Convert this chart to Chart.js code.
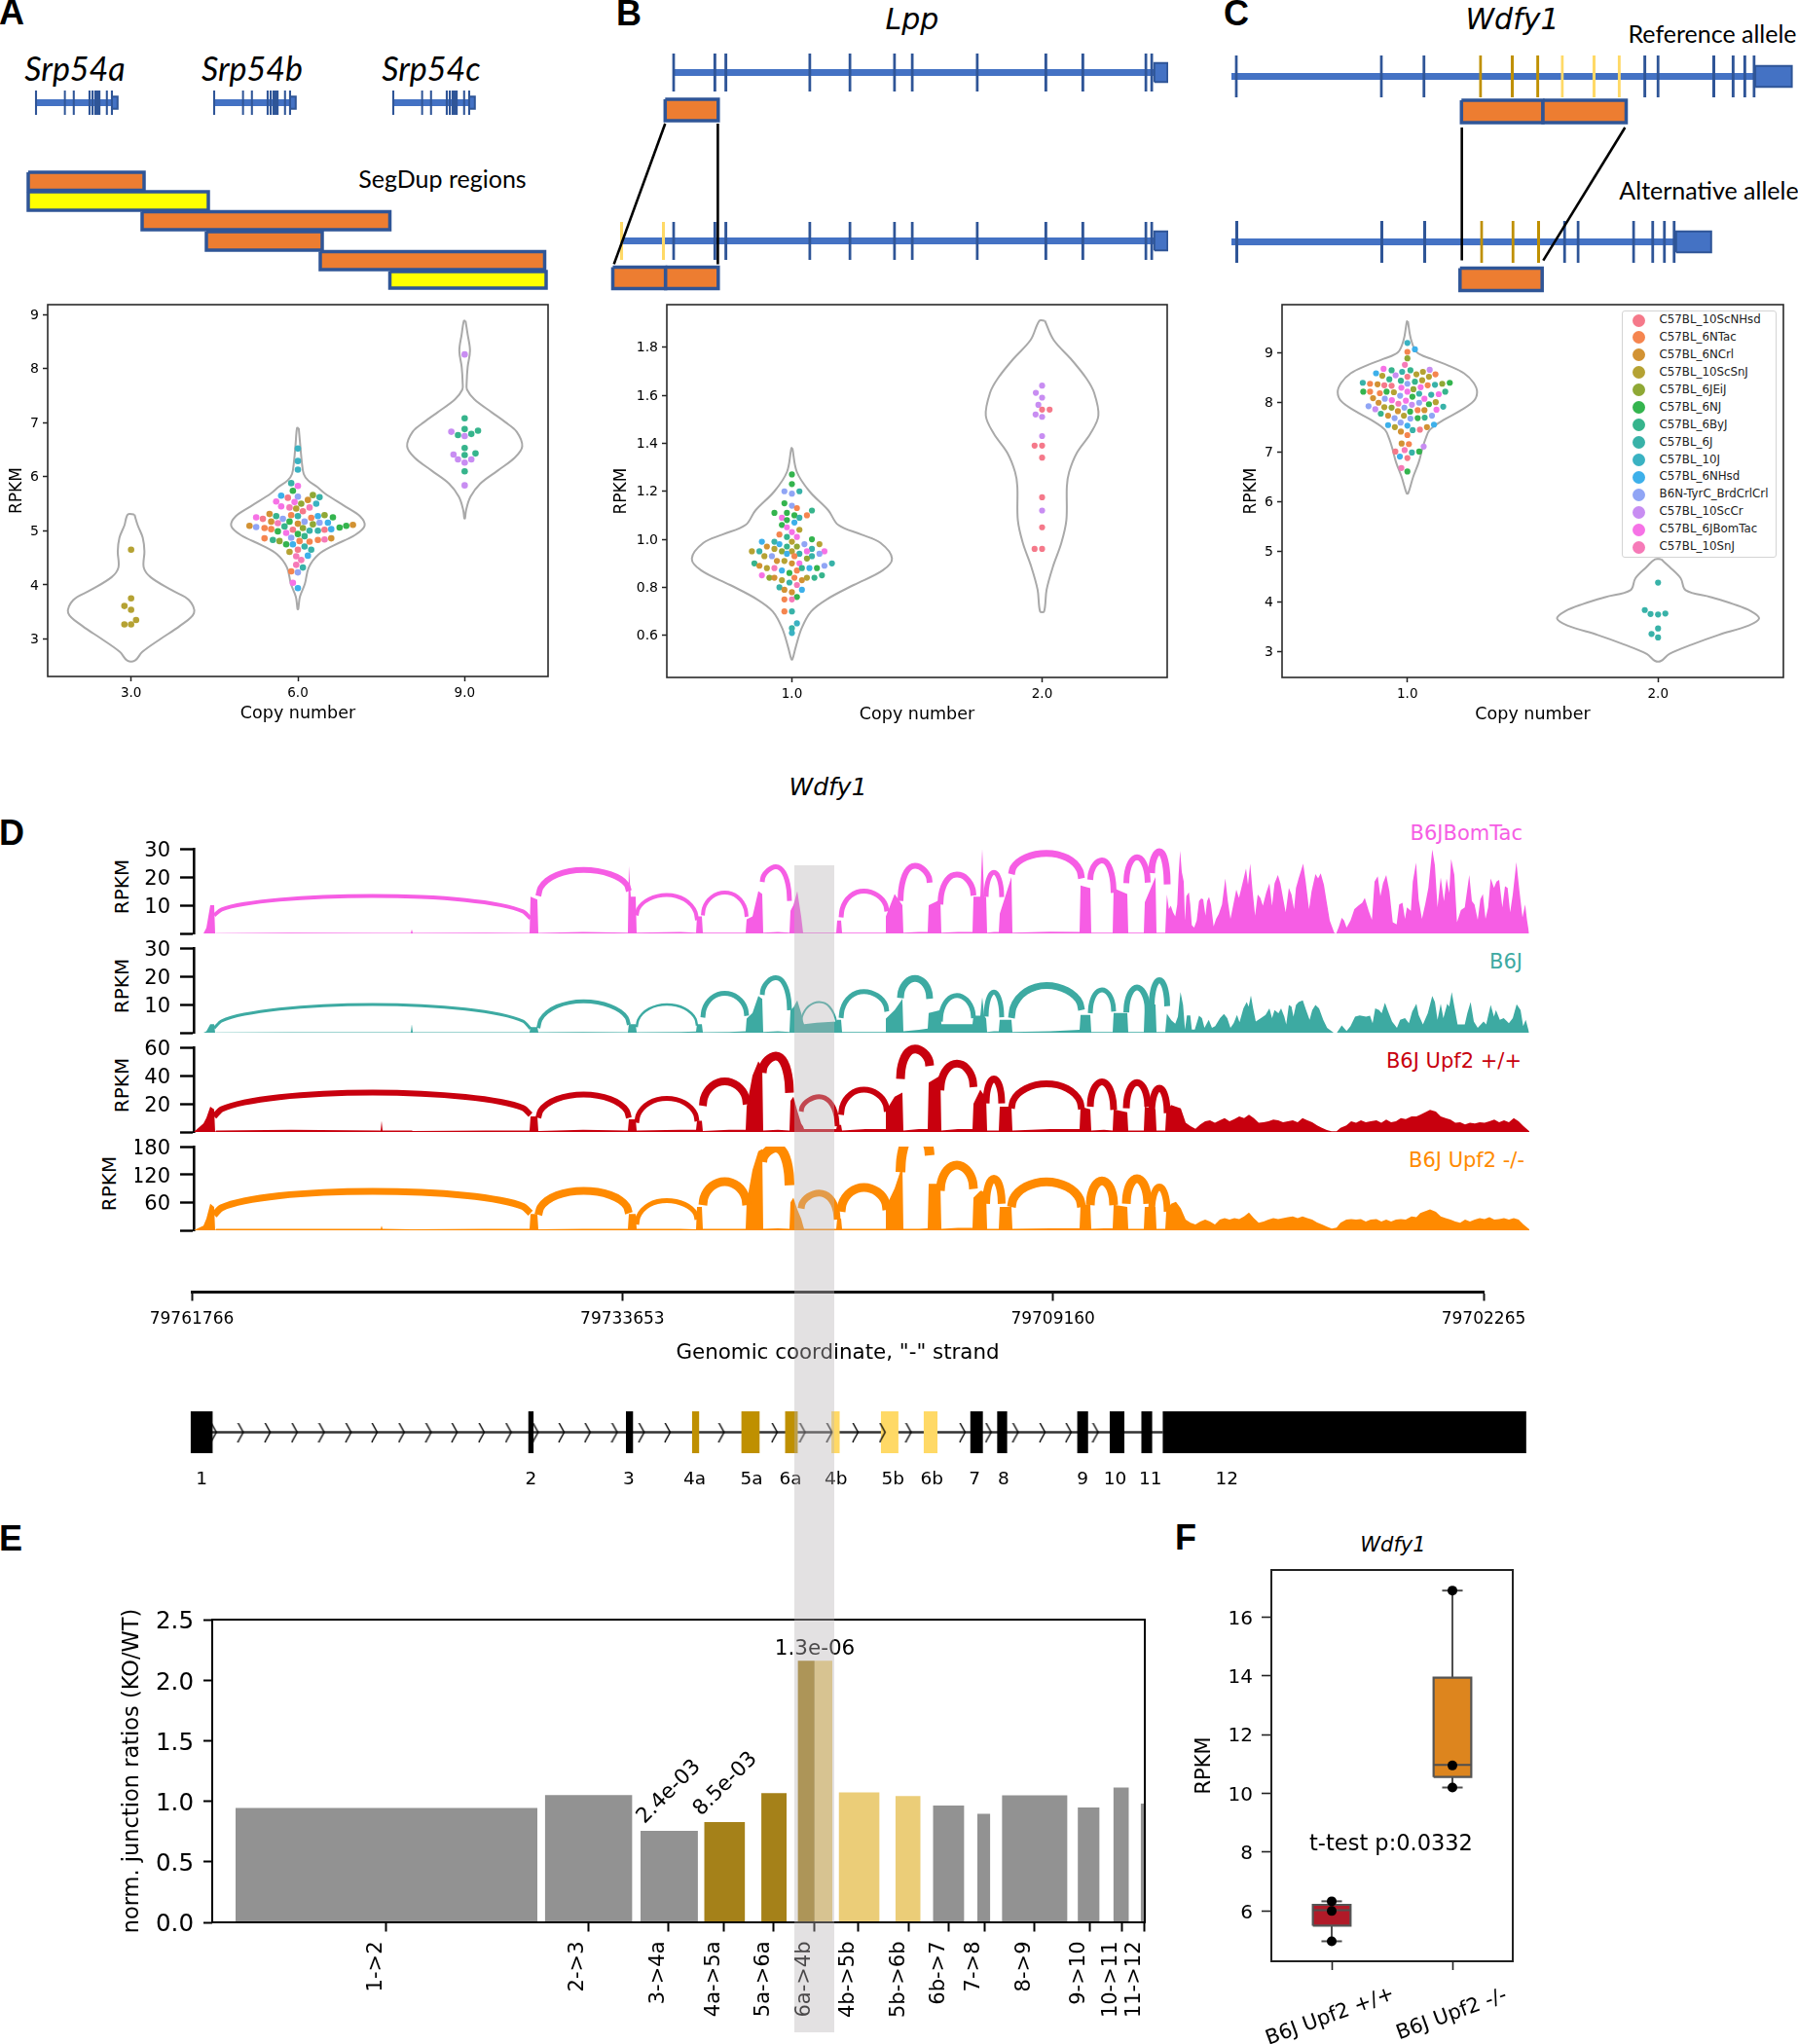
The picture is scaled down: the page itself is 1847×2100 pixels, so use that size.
<!DOCTYPE html>
<html>
<head>
<meta charset="utf-8">
<title>Wdfy1 figure</title>
<script src="https://cdn.jsdelivr.net/npm/chart.js"></script>
<style>
  html, body { margin: 0; padding: 0; background: #fff; }
  #page { position: relative; width: 1847px; height: 2100px; overflow: hidden; background: #fff; }
  #page canvas { position: absolute; }
  .txt { position: absolute; white-space: pre; line-height: 1; color: #000; font-family: "DejaVu Sans"; }
  #band { position: absolute; left: 816px; top: 889px; width: 41px; height: 1199px; background: rgba(185, 180, 183, 0.4); }
  #legend { position: absolute; left: 1666px; top: 319px; width: 159px; height: 254px; box-sizing: border-box;
            border: 1px solid #d4d4d4; border-radius: 3px; background: #fff; }
</style>
</head>
<body>
<div id="page"></div>
<script>
// strains (legend of panel C, colour index used by the swarm dots)
const strainNames = ["C57BL_10ScNHsd", "C57BL_6NTac", "C57BL_6NCrl", "C57BL_10ScSnJ", "C57BL_6JEiJ", "C57BL_6NJ", "C57BL_6ByJ",
  "C57BL_6J", "C57BL_10J", "C57BL_6NHsd", "B6N-TyrC_BrdCrlCrl", "C57BL_10ScCr", "C57BL_6JBomTac", "C57BL_10SnJ"];
const strainColors = ["#f5798a", "#f5854f", "#d29233", "#b5a233", "#8fa835", "#34b44e", "#36b48c",
  "#38b2a8", "#3ab2c2", "#3db0ea", "#90a5f5", "#c88df2", "#f672e6", "#f67ab8"];

// panel A, Srp54
const aCategories = ["3.0", "6.0", "9.0"];
const aTicks = [3, 4, 5, 6, 7, 8, 9];
const aViolin0Y = [5.3, 5.1, 4.87, 4.62, 4.32, 4.14, 3.9, 3.72, 3.48, 3.24, 3.0, 2.76, 2.6];
const aViolin0W = [.02, .04, .07, .08, .076, .118, .245, .347, .377, .292, .176, .067, .023];
const aViolin1Y = [6.9, 6.59, 6.29, 6.05, 5.93, 5.81, 5.69, 5.45, 5.27, 5.09, 4.92, 4.73, 4.56, 4.32, 4.02, 3.78, 3.55];
const aViolin1W = [.005, .014, .023, .035, .062, .116, .162, .284, .372, .4, .342, .215, .123, .065, .042, .012, .002];
const aViolin2Y = [8.88, 8.63, 8.33, 8.03, 7.73, 7.61, 7.43, 7.19, 7.01, 6.83, 6.56, 6.35, 6.11, 5.87, 5.63, 5.39, 5.23];
const aViolin2W = [.005, .018, .032, .018, .012, .014, .058, .162, .243, .312, .345, .3, .197, .093, .035, .009, .002];
const aDots0X = [0, 0, -.04, 0, .03, -.04, 0];
const aDots0Y = [4.65, 3.75, 3.61, 3.54, 3.35, 3.27, 3.27];
const aDots0C = [3, 3, 3, 3, 3, 3, 3];
const aDots1X = [0, 0, 0, -.04, 0, -.03, -.10, 0, -.06, .09,
  .13, .06, -.13, -.02, .02, .11, -.10, -.05, -.01, .07,
  .03, -.17, -.04, 0, .12, .16, .21, -.25, -.21, -.13,
  -.09, .08, -.16, -.05, .04, .13, .18, -.12, 0, .09,
  .33, .29, .25, -.29, -.25, -.20, -.16, -.08, .03, .20,
  .16, .12, .07, -.03, -.12, -.07, 0, .04, -.04, -.20,
  -.15, -.11, -.07, -.03, .01, .07, .12, .16, .20, .04,
  -.05, 0, .08, .06, -.01, .02, -.01, .03, -.04, 0,
  -.03, 0];
const aDots1Y = [6.52, 6.29, 6.13, 5.88, 5.83, 5.74, 5.65, 5.63, 5.61, 5.66,
  5.62, 5.57, 5.54, 5.53, 5.50, 5.50, 5.45, 5.43, 5.41, 5.43,
  5.36, 5.31, 5.29, 5.27, 5.27, 5.29, 5.25, 5.25, 5.22, 5.27,
  5.22, 5.24, 5.17, 5.17, 5.17, 5.15, 5.15, 5.14, 5.13, 5.12,
  5.11, 5.09, 5.06, 5.09, 5.07, 5.05, 5.03, 5.08, 5.05, 5.03,
  5.02, 5.00, 5.00, 5.02, 4.99, 4.96, 4.94, 4.90, 4.87, 4.86,
  4.83, 4.81, 4.75, 4.75, 4.81, 4.80, 4.83, 4.84, 4.86, 4.71,
  4.61, 4.65, 4.65, 4.54, 4.53, 4.46, 4.37, 4.32, 4.25, 4.23,
  4.04, 3.94];
const aDots1C = [8, 8, 8, 7, 12, 5, 9, 10, 0, 4,
  7, 2, 12, 12, 4, 8, 12, 13, 3, 13,
  0, 2, 1, 7, 9, 4, 5, 12, 0, 6,
  10, 1, 2, 5, 10, 10, 9, 13, 2, 4,
  2, 5, 5, 2, 10, 1, 1, 6, 4, 9,
  0, 7, 7, 0, 5, 12, 5, 6, 10, 1,
  6, 4, 5, 9, 1, 1, 1, 13, 2, 7,
  3, 0, 7, 9, 13, 13, 13, 7, 1, 10,
  12, 9];
const aDots2X = [0, 0, 0, .08, .04, -.04, -.08, 0, 0, .065, 0, -.067, -.04, .04, 0, 0, 0];
const aDots2Y = [8.26, 7.08, 6.88, 6.85, 6.79, 6.77, 6.83, 6.75, 6.53, 6.43, 6.40, 6.41, 6.32, 6.32, 6.26, 6.10, 5.84];
const aDots2C = [11, 6, 6, 6, 6, 6, 11, 11, 6, 6, 6, 11, 11, 11, 11, 6, 11];

// panel B, Lpp
const bCategories = ["1.0", "2.0"];
const bTicks = [.6, .8, 1.0, 1.2, 1.4, 1.6, 1.8];
const bViolin0Y = [1.38, 1.28, 1.20, 1.12, 1.06, 1.02, .985, .92, .87, .81, .75, .70, .63, .55, .50];
const bViolin0W = [.002, .02, .07, .146, .185, .277, .354, .40, .362, .247, .139, .077, .039, .015, .002];
const bViolin1Y = [1.91, 1.83, 1.75, 1.67, 1.61, 1.515, 1.44, 1.36, 1.28, 1.22, 1.08, .985, .885, .79, .70];
const bViolin1W = [.011, .046, .116, .177, .208, .225, .193, .139, .108, .099, .097, .077, .043, .018, .008];
const bDots0X = [0, 0, .03, -.03, 0, -.03, 0, .02, .08, -.07,
  -.02, .01, .06, -.04, -.02, .03, .01, -.04, -.02, 0,
  .03, -.05, -.02, .02, .08, -.07, 0, -.12, -.05, .11,
  .05, -.10, -.02, .02, .08, -.16, -.13, -.07, -.04, 0,
  .06, .13, -.11, -.02, .03, .11, -.08, .01, .08, -.06,
  -.03, .06, -.15, 0, .03, .16, .13, -.13, -.10, -.07,
  -.04, -.01, .02, .04, .07, .10, -.12, -.09, -.07, -.04,
  .01, .04, .06, .09, .12, -.01, -.05, .02, .04, -.03,
  0, .02, -.03, 0, -.03, 0, .02, 0, 0];
const bDots0Y = [1.27, 1.23, 1.20, 1.20, 1.19, 1.15, 1.14, 1.13, 1.12, 1.11,
  1.11, 1.10, 1.10, 1.09, 1.08, 1.09, 1.07, 1.06, 1.05, 1.03,
  1.04, 1.02, 1.01, 1.01, 1.00, .99, .99, .99, .98, .98,
  .98, .97, .97, .97, .96, .95, .95, .96, .95, .95,
  .95, .95, .93, .94, .94, .94, .93, .93, .93, .91,
  .91, .92, .90, .90, .90, .90, .89, .89, .88, .88,
  .87, .86, .87, .88, .88, .88, .85, .84, .84, .83,
  .84, .83, .84, .84, .85, .82, .80, .81, .79, .79,
  .78, .76, .75, .75, .70, .70, .65, .63, .61];
const bDots0C = [5, 5, 7, 10, 10, 5, 10, 1, 6, 5,
  5, 5, 1, 12, 5, 7, 9, 5, 12, 12,
  3, 1, 6, 12, 5, 7, 3, 9, 9, 3,
  10, 2, 6, 4, 7, 3, 7, 3, 4, 3,
  12, 12, 3, 9, 7, 10, 10, 1, 7, 2,
  3, 4, 6, 2, 12, 7, 10, 2, 3, 13,
  9, 5, 1, 6, 9, 5, 12, 4, 2, 3,
  1, 2, 3, 6, 6, 7, 7, 13, 9, 2,
  2, 5, 1, 13, 1, 7, 8, 7, 8];
const bDots1X = [0, -.025, 0, -.015, 0, .03, -.026, 0, 0, -.03, 0, 0, 0, 0, 0, -.03, 0];
const bDots1Y = [1.64, 1.61, 1.59, 1.56, 1.54, 1.54, 1.52, 1.51, 1.43, 1.39, 1.39, 1.34, 1.175, 1.12, 1.05, .96, .96];
const bDots1C = [11, 11, 11, 11, 0, 0, 11, 11, 11, 0, 0, 0, 0, 11, 0, 0, 0];

// panel C, Wdfy1
const cCategories = ["1.0", "2.0"];
const cTicks = [3, 4, 5, 6, 7, 8, 9];
const cViolin0Y = [9.62, 9.25, 9.0, 8.87, 8.73, 8.58, 8.39, 8.2, 8.02, 7.83, 7.64, 7.45, 7.26, 7.07, 6.79, 6.5, 6.17];
const cViolin0W = [.002, .015, .038, .095, .166, .226, .264, .278, .264, .211, .143, .09, .072, .06, .045, .023, .003];
const cViolin1Y = [4.85, 4.70, 4.47, 4.23, 4.09, 3.95, 3.81, 3.66, 3.52, 3.33, 3.14, 2.95, 2.81];
const cViolin1W = [.012, .045, .09, .11, .21, .30, .37, .403, .362, .241, .136, .045, .012];
const cDots0X = [0, .03, 0, 0, -.01, -.095, -.063, .012, -.021, .089,
  .062, -.125, -.10, -.047, .036, .112, .086, -.072, 0, -.026,
  .03, .059, -.178, -.149, -.119, -.092, -.063, 0, -.024, .081,
  .11, .139, .169, .024, .053, -.176, -.149, -.11, -.083, -.054,
  0, .047, .095, .125, .151, -.137, -.09, -.029, .02, -.062,
  -.006, .068, -.115, -.036, .018, .047, .086, .113, -.155, -.128,
  -.092, -.063, -.012, .143, -.038, .011, .041, .068, .116, -.106,
  -.077, -.014, -.051, .012, .041, .069, .098, -.027, -.077, -.05,
  0, .106, .078, .021, -.026, .05, 0, -.023, .006, .065,
  -.048, -.011, .018, .047, -.03, 0, -.024, 0];
const cDots0Y = [9.19, 9.06, 9.01, 8.88, 8.75, 8.67, 8.64, 8.64, 8.61, 8.65,
  8.61, 8.58, 8.53, 8.54, 8.56, 8.56, 8.51, 8.46, 8.51, 8.43,
  8.41, 8.44, 8.39, 8.37, 8.36, 8.34, 8.33, 8.37, 8.29, 8.34,
  8.35, 8.37, 8.39, 8.26, 8.30, 8.21, 8.21, 8.18, 8.21, 8.20,
  8.21, 8.17, 8.15, 8.16, 8.21, 8.08, 8.07, 8.13, 8.11, 8.04,
  8.03, 8.07, 7.99, 7.97, 7.95, 7.99, 7.96, 8.00, 7.92, 7.86,
  7.90, 7.89, 7.89, 7.91, 7.82, 7.81, 7.84, 7.84, 7.85, 7.77,
  7.73, 7.73, 7.68, 7.67, 7.68, 7.69, 7.73, 7.59, 7.54, 7.50,
  7.53, 7.55, 7.50, 7.44, 7.41, 7.45, 7.34, 7.17, 7.16, 7.11,
  7.01, 7.04, 6.99, 7.01, 6.91, 6.88, 6.68, 6.61];
const cDots0C = [8, 9, 1, 4, 13, 12, 6, 6, 7, 11,
  3, 9, 3, 11, 3, 1, 3, 6, 0, 6,
  6, 3, 7, 1, 2, 0, 0, 10, 12, 1,
  7, 4, 5, 4, 12, 5, 1, 1, 5, 3,
  12, 7, 7, 12, 6, 2, 10, 10, 5, 12,
  12, 12, 2, 13, 11, 10, 5, 3, 10, 11,
  3, 4, 10, 7, 2, 5, 1, 2, 12, 6,
  2, 3, 10, 10, 5, 6, 10, 10, 9, 3,
  9, 9, 2, 7, 2, 0, 1, 2, 1, 11,
  0, 13, 7, 5, 9, 0, 13, 5];
const cDots1X = [0, -.053, -.03, 0, .029, 0, -.026, 0];
const cDots1Y = [4.38, 3.83, 3.75, 3.74, 3.76, 3.46, 3.35, 3.28];
const cDots1C = [7, 7, 7, 7, 7, 7, 7, 7];

// gene models, exon positions along each track
const srp54Exons = [0, 29.6, 38.7, 54.9, 58.1, 60.9, 62.8, 65.2, 72.7, 77.9];
const lppExons = [0, 42.3, 53.7, 139.9, 181.1, 226.9, 245.1, 311.9, 382.3, 420.3, 485.1, 491.1];
const lppAltExons = [-53.4, -10.4];
const wdfyRefExons = [0, 149, 192.8, 250.9, 283.4, 309.7, 334.9, 367.4, 393.3, 419.7, 433.2, 490.5, 510.3, 522.3, 531.9];
const wdfyRefKinds = [0, 0, 0, 1, 1, 1, 2, 2, 2, 0, 0, 0, 0, 0, 0];
const wdfyAltExons = [.4, 149.4, 193.6, 252, 284.2, 310.5, 337.2, 351.1, 408.1, 427.8, 439.8, 449.8];
const wdfyAltKinds = [0, 0, 0, 1, 1, 1, 0, 0, 0, 0, 0, 0];

// SegDup regions
const segStart = [29, 29, 146, 212, 329, 400.5];
const segEnd = [148, 214, 400.5, 331, 559.5, 561];
const segTop = [177, 197, 217.5, 238, 258.5, 279];
const segBottom = [195.5, 216, 236, 257, 277, 296];
const segFill = ["#ed7d31", "#ffff00", "#ed7d31", "#ed7d31", "#ed7d31", "#ffff00"];

// panel D, sashimi tracks
const bodyPos = [0, 10, 13, 17, 21, 22, 23, 100, 192, 193, 194, 223, 224, 225, 300, 345, 346, 353, 354, 400, 446, 447, 449, 454, 455,
  500, 516, 517, 522, 523, 550, 567, 568, 574, 580, 584, 585, 600, 612, 613, 616, 620, 624, 626, 627, 640, 660, 661, 665, 666,
  690, 710, 711, 720, 728, 729, 745, 754, 755, 767, 768, 785, 800, 801, 808, 810, 812, 814, 815, 822, 827, 828, 840, 841,
  880, 910, 911, 921, 922, 935, 944, 945, 959, 960, 970, 976, 977, 988, 989, 995, 998];
const utrPos = [999, 1004, 1009, 1014, 1019, 1024, 1029, 1034, 1039, 1044, 1049, 1054, 1059, 1064, 1069, 1074, 1079, 1084, 1089, 1094,
  1099, 1104, 1109, 1114, 1119, 1124, 1129, 1134, 1139, 1144, 1149, 1154, 1159, 1164, 1169, 1174, 1178, 1184, 1189, 1194, 1199, 1204, 1209,
  1215, 1220, 1225, 1230, 1235, 1240, 1245, 1251, 1256, 1260, 1270, 1276, 1281, 1286, 1291, 1296, 1301, 1306, 1311, 1316, 1321, 1326,
  1331, 1336, 1341, 1346, 1351, 1356, 1361, 1366, 1372];
const arcFrom = [21, 354, 455, 523, 584, 624, 665, 726, 767, 814, 840, 921, 958, 984];
const arcTo = [346, 447, 517, 568, 612, 661, 712, 756, 801, 830, 912, 945, 980, 1000];

const bomTacBody = [0, 0, 2, 10, 10, 0, .1, .3, .2, .2, .2, .2, 1.5, .2, .3, .2, 13, 12, .2, .5, .3, 24, 13, 13, .3, .5, .3, 6, 6, .3, .3, .3,
  5, 6, 15, 14, .3, .5, .3, 8, 10, 15, 6, .3, .3, .3, .3, 4.6, 4.6, .3, .3, .3, 6, 14, 10, .3, .5, .5, 10, 12, .3, .5, .5,
  13, 13, 30, 13, 13, .3, .5, .5, 7, 20, .3, .6, .5, 17, 16, .3, .3, .3, 16, 14, .3, .3, .3, 11, 20, .3, .3, .3];
const bomTacUtrPos = [999.7, 1001.7, 1003.7, 1006, 1008.3, 1010.3, 1011.7, 1013.3, 1015, 1017, 1018.3, 1019.7, 1022.3, 1023.7, 1025.3, 1027.7,
  1030.3, 1032.7, 1035, 1037, 1039.3, 1041, 1043, 1045, 1047.7, 1050.3, 1053, 1056.3, 1059.7, 1062.3, 1065, 1068.3,
  1071, 1073.7, 1077, 1081, 1083, 1085.3, 1087.7, 1090.3, 1093, 1095.7, 1098.3, 1101.7, 1105, 1107.7, 1110.3, 1113.7,
  1116.3, 1119, 1121.7, 1125, 1127.7, 1130.3, 1132.3, 1135, 1139.7, 1142.3, 1145.7, 1148.3, 1152.3, 1155, 1157.7, 1161,
  1163.7, 1167, 1171.7, 1173.7, 1176.3, 1179.3, 1181.7, 1184.3, 1188.3, 1192.3, 1196.3, 1200.3, 1203, 1207, 1210.3, 1213,
  1216.3, 1219, 1221.7, 1225, 1228.3, 1231.7, 1235.7, 1238.3, 1241.7, 1244.3, 1246.3, 1250.3, 1252.3, 1255.7, 1258.3, 1261.7,
  1265, 1268.3, 1272.3, 1275, 1277.7, 1281, 1284.3, 1287, 1289.7, 1291.7, 1295, 1297.7, 1301.7, 1305.7, 1310.3, 1313,
  1315.7, 1319, 1321.7, 1324.3, 1327, 1329.7, 1332.3, 1335.7, 1338.3, 1341, 1344.3, 1347, 1349.7, 1352.3, 1355, 1358.7,
  1361.7, 1365, 1367.7, 1369.7, 1371.7];
const bomTacUtr = [13.8, 8.6, 9.8, 7.5, 6, 10.3, 20.7, 29.3, 21.8, 18.4, 4.6, 13.2, 14.6, 10.3, 2.9, 2.1,
  4.6, 11.5, 12.4, 12.1, 6.3, 11.5, 12.9, 10.3, 2.5, 5.2, 6.9, 10.3, 19.5, 11.5, 5.2, 10.9,
  15.5, 12.6, 17.2, 23, 17.2, 24.7, 15.2, 6.3, 13.8, 12.6, 9.8, 14.4, 17.8, 9.8, 17.8, 20.7,
  17.8, 12.6, 7.5, 16.1, 13.8, 8.6, 16.1, 19.5, 24.7, 18.4, 8.6, 14.9, 21, 19.5, 21.3, 17.2,
  11.5, 4.6, .2, 0, 2.3, 5.5, 4.6, 2.1, 4.6, 8.6, 9.8, 10.9, 12.6, 8, 4.8, 18.4,
  20.3, 13.2, 17.8, 20.7, 14.9, 4, 3.2, 10.3, 10.9, 5.2, 9.2, 8, 18.4, 25.1, 12.1, 5.2,
  10.3, 16.1, 29.7, 24.1, 9.2, 19.8, 11.5, 19.5, 14.4, 26.4, 20.7, 4, 8.3, 9.2, 20.7, 11.5,
  10.3, 4.8, 12.1, 14, 5.2, 9.2, 19.5, 16.1, 18.4, 19, 9.2, 16.7, 16.1, 7.5, 13.8, 25.3,
  15.5, 5.7, 10.3, 4.6, .2];
const bomTacLeft = [6.4, 13.3, 6.4, 6.4, 18.2, null, 5.7, 11.5, 10.3, 13, 21, 19, 17.8, 21.4];
const bomTacRight = [5.3, 15, 4.7, 5.9, 11.5, null, 7.8, 18, 13.4, 12.9, 19.5, 14.4, 18, 17.4];
const bomTacPeak = [13.3, 22.5, 13.6, 14.5, 23.6, null, 15, 24, 20.9, 21.6, 28.4, 25.9, 27, 29];
const bomTacWeight = [4, 6, 4, 4, 5, 0, 5, 6, 6, 5, 7, 6, 6, 7];

const b6jBody = [0, 0, .5, 3, 3, 0, .1, .2, .2, .2, .2, .2, 3, .2, .2, .2, 2, 2, .2, .3, .2, 3, 3, 3, .2, .3, .4, 3, 3, .2, .3, .5,
  5, 7, 13, 12, .3, .5, .3, 8, 9, 11.5, 7, 4, 3, 3.5, 4, 4.6, 4.6, .3, .3, .3, 5, 8, 12, .5, 1, 1.5, 7, 8, 3, 3, 3,
  6, 6, 12.6, 6, 5, .3, .5, .5, 4.6, 4.6, .3, .5, 1, 6.3, 6.3, .3, .3, .3, 7, 7, .3, .3, .3, 10, 10, .3, .3, .3];
const b6jUtrPos = [999.7, 1004.3, 1008.3, 1011, 1013.7, 1016.3, 1018.3, 1020.3, 1023.7, 1025.3, 1028.3, 1032.7, 1035.7, 1038.3, 1042.7, 1046,
  1049.3, 1054.3, 1058.3, 1061.7, 1065, 1068.3, 1071.7, 1074.3, 1078.3, 1081.7, 1083.7, 1086, 1088.3, 1091, 1096.3, 1101,
  1105, 1107.7, 1110.3, 1114.3, 1117, 1120.3, 1122.3, 1125, 1127.7, 1129.7, 1132.3, 1135, 1139.3, 1142.7, 1146.3, 1149,
  1152.3, 1156, 1160.3, 1164.3, 1171, 1174.3, 1179.3, 1184.3, 1188.3, 1193, 1197.7, 1204.3, 1208.3, 1211, 1213.7, 1217.7,
  1220.3, 1223.7, 1227, 1231, 1236, 1239.3, 1244.3, 1248.3, 1251.7, 1256, 1258.3, 1262.7, 1267.7, 1272.3, 1275, 1277.7,
  1281, 1283.7, 1287.7, 1289.7, 1292.3, 1295, 1298.3, 1305.7, 1308.3, 1311.7, 1315, 1319, 1325, 1327.7, 1332.3, 1335.7,
  1337.7, 1341.7, 1345.7, 1351, 1355, 1359, 1363, 1365.7, 1368.3, 1371.7];
const b6jUtr = [6.7, 4.4, 3.2, 5.7, 14.4, 9.8, 1.1, 6.1, 6.1, 1.1, 1.1, 6, 5.2, 1.7, 4.6, 1.7,
  2.3, 5.2, 6.6, 5.2, 1.7, 3.4, 6.3, 3.7, 8.6, 10.9, 9.2, 13.2, 8.6, 4, 5.2, 6.3,
  8.6, 5.2, 8, 6.9, 8.6, 5.7, 2.9, 9.8, 9.2, 5.7, 9.8, 10.9, 11.5, 8, 4.6, 8,
  9.8, 8.6, 4.6, 1.7, 0, 0, 2.6, .6, 2.3, 5.7, 6.1, 5.7, 6, 3.4, 8.6, 8,
  6.9, 10.6, 7.5, 4, 1.7, 4.6, 5.2, 3.4, 7.5, 10.3, 6.3, 2.9, 6.9, 13, 10.9, 4.6,
  10.3, 5.2, 10.3, 9.2, 14.4, 9.2, 2.9, 2.9, 6.9, 10.9, 4, 1.7, 4, 2.9, 9.8, 5.7,
  8, 4.6, 5.2, 3.4, 5.2, 10.1, 8, 2.3, 4.6, .2];
const b6jLeft = [1.6, 1.6, 2, 5.4, 13.4, 3.4, 5.2, 12.3, 4, 5.7, 5.2, 6.9, 7.2, 9.4];
const b6jRight = [1.4, 2.8, 2.5, 6, 8, .6, 7.5, 12, 5.2, 5.5, 8, 7.5, 7.5, 9.4];
const b6jPeak = [10, 11.1, 10, 14, 19.5, 10.9, 14.6, 19.2, 13.2, 14.4, 16.7, 15.2, 16, 18.6];
const b6jWeight = [3, 4, 2.5, 5, 5, 2, 5, 7, 5, 5, 7, 5, 6, 6];

const wtBody = [0, 6, 10, 18, 16, 0, 1, 1.5, 1, 8, 1, 1, 1, .7, 1, 1, 11, 11, .7, 1.5, 1, 9, 9, 9, 1, 1.5, 1.5, 8, 8, .7, 1.5, 1.5,
  18, 40, 50, 46, 1, 1.5, 1, 22, 25, 15, 6, 4, 2, 2, 2, 5, 5, 1, 2, 2, 15, 25, 28, 1, 2, 2, 35, 40, 1, 2, 2,
  20, 30, 28, 26, 24, 1, 1, 1, 18, 18, 1, 2, 2, 18, 16, 1, 1.5, 1, 16, 14, 1, 1, 1, 18, 16, 1, 1, 1];
const wtUtr = [13.4, 19.2, 18, 16.8, 6.5, 4.2, 2.3, 5.3, 7.6, 8.3, 6.5, 8.3, 9.9, 7.6, 9.2, 11, 9.9, 12.2, 9.9, 6.5,
  6.9, 7.6, 8.8, 8.3, 6.9, 7.6, 8.3, 6.9, 9.9, 8.3, 6.9, 4.6, 3, 1.4, .5, .5, 3, 4.6, 7.6, 6.5, 8.3, 6.9, 7.6,
  8.3, 6.5, 8.8, 6.9, 7.6, 9.9, 9.2, 11, 11, 12.2, 15.7, 14.5, 11, 9.9, 8.8, 6.5, 6.9, 5.3, 6.5, 6, 6.9, 6.5,
  7.6, 8.8, 6.9, 8.3, 6.9, 9.9, 7.6, 4.2, .5];
const wtLeft = [11, 10, 6.5, 18.5, 42, 14.5, 12.2, 37.6, 29.5, 20.3, 16.8, 18, 16.8, 13.4];
const wtRight = [12.2, 10, 7.6, 19.6, 27.7, 4.2, 14.5, 46.8, 31.8, 20.3, 16.2, 15.7, 18, 13.4];
const wtPeak = [27.9, 26.5, 23.8, 35.8, 53.8, 25, 30, 58.8, 48.5, 37.6, 34.2, 35.5, 35, 31];
const wtWeight = [6, 6, 5, 8, 9, 5, 6, 9, 8, 7, 7, 7, 7, 7];

const koBody = [0, 10, 25, 57, 50, 0, 3, 3, 3, 10, 3, 2, 2, 2, 3, 3, 35, 35, 2, 3, 3, 35, 35, 35, 3, 3, 2, 50, 50, 3, 3, 3,
  60, 130, 170, 175, 3, 4, 3, 60, 70, 45, 25, 10, 3, 3, 3, 25, 25, 3, 3, 3, 50, 90, 140, 3, 3, 4, 100, 100, 3, 5, 5,
  70, 85, 85, 80, 75, 3, 3, 3, 50, 50, 3, 4, 4, 55, 55, 3, 4, 4, 55, 50, 3, 3, 3, 50, 50, 3, 3, 3];
const koUtr = [40, 57, 61, 47, 23, 16, 12.5, 19, 23, 19, 12.5, 23, 26, 23, 26, 24, 30, 38, 26, 16,
  19, 23, 26, 24, 26, 28, 30, 26, 30, 26, 23, 17, 12.5, 8, 3.5, 5.5, 16, 23, 24, 23, 24, 19, 23,
  24, 19, 23, 19, 23, 24, 23, 30, 28, 37, 45, 40, 30, 26, 23, 19, 16, 23, 19, 23, 26, 24,
  28, 23, 24, 26, 23, 26, 23, 12.5, 2];
const koLeft = [33, 33, 12.5, 54, 147, 47, 40, 125, 85, 57, 50, 54, 57, 40];
const koRight = [36.7, 36.7, 23, 54, 97, 23, 44, 161, 89, 57, 50, 54, 57, 40];
const koPeak = [83.8, 85, 64, 104.6, 178, 80, 92, 210, 140, 111, 104, 106, 111, 93];
const koWeight = [7, 8, 5, 9, 10, 7, 9, 10, 9, 8, 9, 9, 9, 7];

const genomeTicks = ["79761766", "79733653", "79709160", "79702265"];

// transcript model below the tracks
const exonNames = ["1", "2", "3", "4a", "5a", "6a", "4b", "5b", "6b", "7", "8", "9", "10", "11", "12"];
const exonStart = [-4.3, 343, 443.6, 511.5, 562.2, 607.2, 655, 705.8, 749.8, 797.7, 825.4, 907.7, 941.2, 973.7, 995.7];
const exonEnd = [18.7, 348.8, 451.2, 519.2, 581.4, 620.6, 663.7, 724, 764.2, 811, 836, 919.2, 956.5, 985.2, 1369.9];
const exonKind = [3, 3, 3, 1, 1, 1, 2, 2, 2, 3, 3, 3, 3, 3, 3];
const exonLabelPos = [7.2, 346, 446.5, 514.4, 572.8, 613, 659.8, 718.2, 758.4, 802.4, 832.1, 913.4, 947, 983.2, 1061.8];
const chevronPos = [19.7, 47.4, 75.2, 102.9, 130.7, 158.4, 185.2, 213, 240.7, 267.5, 295.3, 323, 350.8, 377.6, 404.3, 432.1,
  459.9, 486.6, 542.1, 596.7, 625.4, 653.2, 679.9, 707.7, 734.5, 790, 816.8, 844.6, 872.3, 899.1, 926.8];

// panel E
const junctionNames = ["1->2", "2->3", "3->4a", "4a->5a", "5a->6a", "6a->4b", "4b->5b", "5b->6b", "6b->7", "7->8", "8->9", "9->10", "10->11", "11->12"];
const junctionTicks = [178.9, 386, 468.8, 525.6, 576.8, 618.9, 663.9, 715.1, 756.5, 793, 844.9, 901, 934, 957.9];
const ratioStart = [23.9, 341.7, 440, 505.3, 564.1, 601.4, 618.9, 643.5, 701.7, 740.3, 786, 811.2, 889.1, 925.6, 953.7];
const ratioEnd = [334, 431.6, 498.9, 547.4, 590.1, 618.9, 637.1, 685.6, 727.7, 772.6, 799.3, 878.6, 911.6, 941.7, 962];
const ratioValues = [.945, 1.052, .755, .827, 1.068, 2.16, 2.16, 1.073, 1.044, .964, .897, 1.049, .948, 1.113, .98];
const ratioKinds = [0, 0, 0, 1, 1, 1, 2, 2, 2, 0, 0, 0, 0, 0, 0];
const ratioTicks = [0, .5, 1, 1.5, 2, 2.5];

// panel F
const fGroups = ["B6J Upf2 +/+", "B6J Upf2 -/-"];
const fColors = ["#b01a28", "#dd851e"];
const fQ1 = [5.5, 10.56];
const fQ3 = [6.21, 13.94];
const fMedian = [6.03, 10.97];
const fLow = [4.97, 10.2];
const fHigh = [6.33, 16.9];
const fPointGroup = [0, 0, 0, 1, 1, 1];
const fPointValue = [4.97, 6.0, 6.33, 10.2, 10.95, 16.9];
const fTicks = [6, 8, 10, 12, 14, 16];

// ---------------------------------------------------------------- helpers
const page = document.getElementById("page");
Chart.defaults.font.family = "DejaVu Sans";
Chart.defaults.color = "#000";
Chart.defaults.animation = false;

function text(str, x, y, opts) {
  opts = opts || {};
  const el = document.createElement("div");
  el.className = "txt";
  el.textContent = str;
  el.style.left = x + "px";
  el.style.top = y + "px";
  el.style.fontSize = (opts.size || 18) + "px";
  if (opts.family) el.style.fontFamily = opts.family;
  if (opts.weight) el.style.fontWeight = opts.weight;
  if (opts.italic) el.style.fontStyle = "italic";
  if (opts.color) el.style.color = opts.color;
  const shift = opts.anchor === "right" ? "-100%" : opts.anchor === "left" ? "0" : "-50%";
  el.style.transform = "translate(" + shift + ",-50%)" + (opts.rotate ? " rotate(" + opts.rotate + "deg)" : "");
  page.appendChild(el);
}

function frame(color, width) {
  return {
    id: "frame",
    afterDraw(chart) {
      const a = chart.chartArea, ctx = chart.ctx;
      ctx.save();
      ctx.strokeStyle = color;
      ctx.lineWidth = width;
      ctx.strokeRect(a.left, a.top, a.right - a.left, a.bottom - a.top);
      ctx.restore();
    }
  };
}

function noMargins(s) {
  s.paddingLeft = s.paddingRight = s.paddingTop = s.paddingBottom = 0;
}

function addChart(plot, gutter, datasets, scales, plugins) {
  const canvas = document.createElement("canvas");
  const left = Math.round(plot.left), top = Math.round(plot.top);
  const w = Math.round(plot.right) - left, h = Math.round(plot.bottom) - top;
  canvas.width = w + gutter.left + gutter.right;
  canvas.height = h + gutter.top + gutter.bottom;
  canvas.style.left = (left - gutter.left) + "px";
  canvas.style.top = (top - gutter.top) + "px";
  page.appendChild(canvas);
  const xShown = scales.x.display !== false, yShown = scales.y.display !== false;
  if (xShown) scales.x.afterFit = s => { s.height = gutter.bottom; noMargins(s); };
  if (yShown) scales.y.afterFit = s => { s.width = gutter.left; noMargins(s); };
  // later datasets go on top
  datasets.forEach((d, i) => { d.order = -i; });
  return new Chart(canvas, {
    type: "scatter",
    data: { datasets: datasets },
    options: {
      responsive: false,
      events: [],
      layout: { padding: { left: yShown ? 0 : gutter.left, right: gutter.right, top: gutter.top, bottom: xShown ? 0 : gutter.bottom } },
      plugins: { legend: { display: false }, tooltip: { enabled: false } },
      scales: scales
    },
    plugins: plugins || []
  });
}

function hiddenAxis(min, max, reverse) {
  return { type: "linear", display: false, min: min, max: max, reverse: !!reverse };
}

function axis(min, max, values, labels, style) {
  const s = {
    type: "linear", min: min, max: max,
    afterBuildTicks: scale => {
      scale.ticks = values.map(v => ({ value: v }));
      // digits sit a little low against their tick in the reference
      if (style.drop && !scale.dropped) {
        const compute = scale._computeLabelItems.bind(scale);
        scale._computeLabelItems = area => {
          const items = compute(area);
          items.forEach(it => { it.textOffset += style.drop; });
          return items;
        };
        scale.dropped = true;
      }
    },
    ticks: {
      autoSkip: false, color: "#000",
      font: { size: style.size }, padding: style.padding,
      callback: (v, i) => labels[i]
    },
    grid: {
      drawOnChartArea: false, drawTicks: true,
      tickLength: style.tick, tickColor: style.color || "#222", tickWidth: style.width || 1.5
    },
    border: { display: !!style.border, color: style.color || "#222", width: style.border || 1 }
  };
  if (style.minRotation !== undefined) {
    s.ticks.minRotation = style.minRotation;
    s.ticks.maxRotation = style.minRotation;
  } else {
    s.ticks.maxRotation = 0;
  }
  if (style.labelOffset) s.ticks.labelOffset = style.labelOffset;
  if (style.title) s.title = { display: true, text: style.title, color: "#000", font: { size: style.titleSize }, padding: 0 };
  return s;
}

function line(points, color, width, extra) {
  return Object.assign({ data: points, showLine: true, borderColor: color, borderWidth: width, pointRadius: 0, tension: 0 }, extra || {});
}

// a filled box between two x and two y values, with an optional outline
function box(x1, x2, y1, y2, fillColor, stroke, width) {
  const sets = [{
    data: [{ x: x1, y: y2 }, { x: x2, y: y2 }], showLine: true, borderWidth: 0, pointRadius: 0,
    fill: { value: y1 }, backgroundColor: fillColor
  }];
  if (stroke) {
    sets.push(line([{ x: x1, y: y1 }, { x: x2, y: y1 }, { x: x2, y: y2 }, { x: x1, y: y2 }, { x: x1, y: y1 }], stroke, width));
  }
  return sets;
}

function violin(center, ys, widths) {
  const right = ys.map((y, i) => ({ x: center + widths[i], y: y }));
  const left = ys.map((y, i) => ({ x: center - widths[i], y: y })).reverse();
  return line(right.concat(left, [right[0]]), "#a9a9a9", 2, { tension: 0.35 });
}

function swarm(center, xs, ys, cs, radius) {
  return {
    data: ys.map((y, i) => ({ x: center + xs[i], y: y })),
    pointRadius: radius, pointBorderWidth: 0,
    pointBackgroundColor: cs.map(c => strainColors[c])
  };
}

function violinPanel(plot, gutter, categories, ticks, tickLabels, yMin, yMax, sets) {
  addChart(plot, gutter, sets, {
    x: axis(-.5, categories.length - .5, categories.map((c, i) => i), categories,
      { size: 13.5, padding: 4, tick: 5, title: "Copy number", titleSize: 17.5 }),
    y: axis(yMin, yMax, ticks, tickLabels,
      { size: 14, padding: 4, tick: 5, title: "RPKM", titleSize: 17, drop: 1 })
  }, [frame("#2a2a2a", 1.6)]);
}

const exonPalette = ["#2f5597", "#bf9000", "#ffd966", "#000000"];

function geneTrack(origin, top, bottom, xMin, xMax, exons, kinds, exonWidth, lineFrom, lineTo, tail, lineWidth) {
  const sets = [line([{ x: lineFrom, y: 0 }, { x: lineTo, y: 0 }], "#4472c4", lineWidth)];
  exons.forEach((e, i) => {
    sets.push(...box(e - exonWidth / 2, e + exonWidth / 2, -1, 1, exonPalette[kinds ? kinds[i] : 0]));
  });
  if (tail) sets.push(...box(tail[0], tail[1], -.5, .5, "#4472c4", "#2f5597", 2));
  addChart({ left: origin + xMin, right: origin + xMax, top: top, bottom: bottom }, { left: 0, right: 0, top: 0, bottom: 0 },
    sets, { x: hiddenAxis(xMin, xMax), y: hiddenAxis(-1, 1) });
}

// panel schematics: boxes and connector lines
function schematic(plot, starts, ends, tops, bottoms, fills, connectors) {
  const sets = [];
  starts.forEach((s, i) => { sets.push(...box(s, ends[i], tops[i], bottoms[i], fills[i], "#2f5597", 3.5)); });
  (connectors || []).forEach(c => {
    sets.push(line([{ x: c[0], y: c[1] }, { x: c[2], y: c[3] }], "#000", 2.6));
  });
  addChart(plot, { left: 0, right: 0, top: 0, bottom: 0 }, sets,
    { x: hiddenAxis(plot.left, plot.right), y: hiddenAxis(plot.top, plot.bottom, true) });
}

// junction arcs all use the same arch profile, scaled to the read heights
const archX = [0, .024, .095, .206, .345, .5, .655, .794, .905, .976, 1];
const archY = [0, .309, .588, .809, .951, 1, .951, .809, .588, .309, 0];

function track(top, bottom, yMax, ticks, labels, color, body, tailPos, tail, lefts, rights, peaks, weights) {
  const cover = bodyPos.map((p, i) => ({ x: p, y: body[i] })).concat(tailPos.map((p, i) => ({ x: p, y: tail[i] })));
  const sets = [{ data: cover, showLine: true, borderWidth: 0, pointRadius: 0, fill: "origin", backgroundColor: color, clip: 0 }];
  arcFrom.forEach((from, j) => {
    if (peaks[j] === null) return;
    const pts = archX.map((f, k) => {
      const base = lefts[j] + (rights[j] - lefts[j]) * f;
      return { x: from + (arcTo[j] - from) * f, y: base + (peaks[j] - base) * archY[k] };
    });
    sets.push(line(pts, color, weights[j], { tension: 0.3, clip: yMax > 100 ? 0 : 4 }));
  });
  addChart({ left: 199, right: 1571, top: top, bottom: bottom }, { left: 60, right: 5, top: 14, bottom: 4 }, sets, {
    x: hiddenAxis(0, 1372),
    y: axis(0, yMax, ticks, labels, { size: 21, padding: 10, tick: 14, color: "#000", width: 2.4, border: 2.6, drop: 2.5 })
  });
}

// ---------------------------------------------------------------- panel A
text("A", 12, 13, { size: 36, weight: "bold", family: "Liberation Sans" });
text("Srp54a", 77, 70, { size: 34, italic: true, family: "Lato" });
text("Srp54b", 259, 70, { size: 34, italic: true, family: "Lato" });
text("Srp54c", 443, 70, { size: 34, italic: true, family: "Lato" });
text("SegDup regions", 454.5, 183, { size: 25, family: "Lato" });
[36.8, 220.3, 403.8].forEach(origin => {
  geneTrack(origin, 93, 118, -2, 86, srp54Exons, null, 2.4, 0, 78, [78, 83.8], 7);
});
schematic({ left: 0, right: 620, top: 170, bottom: 300 }, segStart, segEnd, segTop, segBottom, segFill);

violinPanel({ left: 49.4, right: 562.7, top: 312.7, bottom: 695.3 }, { left: 42, right: 6, top: 8, bottom: 49 },
  aCategories, aTicks, aTicks.map(String), 2.307, 9.18, [
    violin(0, aViolin0Y, aViolin0W), violin(1, aViolin1Y, aViolin1W), violin(2, aViolin2Y, aViolin2W),
    swarm(0, aDots0X, aDots0Y, aDots0C, 3.3), swarm(1, aDots1X, aDots1Y, aDots1C, 3.3), swarm(2, aDots2X, aDots2Y, aDots2C, 3.3)
  ]);

// ---------------------------------------------------------------- panel B
text("B", 646, 14, { size: 36, weight: "bold", family: "Liberation Sans" });
text("Lpp", 937, 20, { size: 30, italic: true });
geneTrack(692.4, 55, 94, -8, 508, lppExons, null, 3.2, 0, 493, [493.8, 507.3], 7);
geneTrack(692.4, 228, 267, -60, 508, lppExons.concat(lppAltExons), lppExons.map(() => 0).concat([2, 2]), 3.2, -54.6, 493, [493.8, 507.3], 7);
schematic({ left: 620, right: 1240, top: 95, bottom: 300 },
  [683.3, 629.5, 683.7], [737.8, 683.7, 737.8], [102, 274.5, 274.5], [124, 296.5, 296.5], ["#ed7d31", "#ed7d31", "#ed7d31"],
  [[683.3, 127, 630.7, 271.4], [737.4, 127, 737.4, 271.4]]);

violinPanel({ left: 685.2, right: 1199.3, top: 312.6, bottom: 695.6 }, { left: 57, right: 6, top: 8, bottom: 49 },
  bCategories, bTicks, bTicks.map(v => v.toFixed(1)), .425, 1.977, [
    violin(0, bViolin0Y, bViolin0W), violin(1, bViolin1Y, bViolin1W),
    swarm(0, bDots0X, bDots0Y, bDots0C, 3.1), swarm(1, bDots1X, bDots1Y, bDots1C, 3.1)
  ]);

// ---------------------------------------------------------------- panel C
text("C", 1270, 14, { size: 36, weight: "bold", family: "Liberation Sans" });
text("Wdfy1", 1553.5, 20, { size: 30, italic: true });
text("Reference allele", 1759, 34, { size: 25, family: "Lato" });
text("Alternative allele", 1755.5, 195, { size: 25, family: "Lato" });
geneTrack(1270.2, 57, 100, -8, 573, wdfyRefExons, wdfyRefKinds, 3.2, -5, 533, [533.1, 570.6], 7);
geneTrack(1270.2, 227, 270, -8, 573, wdfyAltExons, wdfyAltKinds, 3.2, -5, 452, [451.8, 487.8], 7);
schematic({ left: 1240, right: 1847, top: 95, bottom: 305 },
  [1501.3, 1585, 1499.8], [1585, 1670.5, 1584.2], [103, 103, 275.5], [126, 126, 298.5], ["#ed7d31", "#ed7d31", "#ed7d31"],
  [[1501.7, 131, 1501.7, 267.6], [1669.3, 131, 1585.3, 267.6]]);

violinPanel({ left: 1317.4, right: 1831.6, top: 312.6, bottom: 695.6 }, { left: 42, right: 6, top: 8, bottom: 49 },
  cCategories, cTicks, cTicks.map(String), 2.478, 9.957, [
    violin(0, cViolin0Y, cViolin0W), violin(1, cViolin1Y, cViolin1W),
    swarm(0, cDots0X, cDots0Y, cDots0C, 3.1), swarm(1, cDots1X, cDots1Y, cDots1C, 3.1)
  ]);

const legend = document.createElement("div");
legend.id = "legend";
page.appendChild(legend);
strainNames.forEach((name, i) => {
  const y = 329 + i * 17.94;
  const dot = document.createElement("div");
  dot.style.cssText = "position:absolute;width:13px;height:13px;border-radius:50%;left:10px;top:" + (y - 319 - 7.5) + "px;background:" + strainColors[i];
  legend.appendChild(dot);
  text(name, 1704.6, y, { size: 11.8, anchor: "left", color: "#222" });
});

// ---------------------------------------------------------------- panel D
text("D", 12, 856, { size: 36, weight: "bold", family: "Liberation Sans" });
text("Wdfy1", 850.5, 808, { size: 25, italic: true });
text("B6JBomTac", 1564, 856, { size: 21, anchor: "right", color: "#f65de4" });
text("B6J", 1564, 988, { size: 21, anchor: "right", color: "#3daaa2" });
text("B6J Upf2 +/+", 1563, 1090, { size: 21, anchor: "right", color: "#c8000e" });
text("B6J Upf2 -/-", 1566, 1192, { size: 21, anchor: "right", color: "#ff8a00" });
text("RPKM", 125, 911, { size: 20, rotate: -90 });
text("RPKM", 125, 1013, { size: 20, rotate: -90 });
text("RPKM", 125, 1115, { size: 20, rotate: -90 });
text("RPKM", 112, 1216, { size: 20, rotate: -90 });

track(872, 959, 30, [0, 10, 20, 30], ["", "10", "20", "30"], "#f65de4", bomTacBody, bomTacUtrPos, bomTacUtr, bomTacLeft, bomTacRight, bomTacPeak, bomTacWeight);
track(974, 1061, 30, [0, 10, 20, 30], ["", "10", "20", "30"], "#3daaa2", b6jBody, b6jUtrPos, b6jUtr, b6jLeft, b6jRight, b6jPeak, b6jWeight);
track(1076, 1163, 60, [0, 20, 40, 60], ["", "20", "40", "60"], "#c8000e", wtBody, utrPos, wtUtr, wtLeft, wtRight, wtPeak, wtWeight);
track(1178, 1264, 180, [0, 60, 120, 180], ["", "60", "120", "180"], "#ff8a00", koBody, utrPos, koUtr, koLeft, koRight, koPeak, koWeight);

addChart({ left: 197, right: 1524, top: 1300, bottom: 1327 }, { left: 60, right: 60, top: 12, bottom: 76 }, [], {
  x: axis(0, 3, [0, 1, 2, 3], genomeTicks, { size: 17, padding: 8.5, tick: 9.5, color: "#111", width: 2, border: 3, title: "Genomic coordinate, \"-\" strand", titleSize: 21.4 }),
  y: hiddenAxis(0, 1)
});

// transcript model
const chevron = document.createElement("canvas");
chevron.width = 8;
chevron.height = 20;
const chevronCtx = chevron.getContext("2d");
chevronCtx.strokeStyle = "#000";
chevronCtx.lineWidth = 1.4;
chevronCtx.beginPath();
chevronCtx.moveTo(1, 0);
chevronCtx.lineTo(6.5, 10);
chevronCtx.lineTo(1, 20);
chevronCtx.stroke();

const modelSets = [line([{ x: -4, y: 0 }, { x: 996, y: 0 }], "#333", 2.4)];
exonStart.forEach((s, i) => { modelSets.push(...box(s, exonEnd[i], -1, 1, exonPalette[exonKind[i]])); });
modelSets.push({ data: chevronPos.map(p => ({ x: p, y: 0 })), pointStyle: chevron, pointRadius: 10 });
addChart({ left: 190, right: 1575, top: 1450, bottom: 1493 }, { left: 10, right: 10, top: 12, bottom: 50 }, modelSets, {
  x: axis(-9, 1376, exonLabelPos, exonNames, { size: 18.5, padding: 16, tick: 0, width: 0 }),
  y: hiddenAxis(-1, 1)
});

// ---------------------------------------------------------------- panel E
text("E", 11, 1581, { size: 36, weight: "bold", family: "Liberation Sans" });
const ratioPalette = ["#929292", "#a58119", "#ebcd78"];
const ratioSets = [];
ratioStart.forEach((s, i) => { ratioSets.push(...box(s, ratioEnd[i], 0, ratioValues[i], ratioPalette[ratioKinds[i]])); });
addChart({ left: 218, right: 1176, top: 1664, bottom: 1975 }, { left: 95, right: 14, top: 16, bottom: 118 }, ratioSets, {
  x: axis(0, 958, junctionTicks, junctionNames, { size: 21, padding: 10, tick: 9.5, color: "#000", width: 2, minRotation: 90, labelOffset: -10 }),
  y: axis(0, 2.5, ratioTicks, ratioTicks.map(v => v.toFixed(1)), { size: 24.5, padding: 10, tick: 9, color: "#000", width: 2, title: "norm. junction ratios (KO/WT)", titleSize: 22.5, drop: 3 })
}, [frame("#000", 2)]);
text("1.3e-06", 837, 1693, { size: 21.5 });
text("2.4e-03", 686, 1840, { size: 21.5, rotate: -45 });
text("8.5e-03", 744, 1832, { size: 21.5, rotate: -45 });

// ---------------------------------------------------------------- panel F
text("F", 1218, 1580, { size: 36, weight: "bold", family: "Liberation Sans" });
text("Wdfy1", 1431, 1587, { size: 21, italic: true });
const fSets = [];
fGroups.forEach((g, i) => {
  fSets.push(line([{ x: i, y: fLow[i] }, { x: i, y: fQ1[i] }], "#4f4f4f", 2));
  fSets.push(line([{ x: i, y: fQ3[i] }, { x: i, y: fHigh[i] }], "#4f4f4f", 2));
  fSets.push(line([{ x: i - .085, y: fLow[i] }, { x: i + .085, y: fLow[i] }], "#4f4f4f", 2));
  fSets.push(line([{ x: i - .085, y: fHigh[i] }, { x: i + .085, y: fHigh[i] }], "#4f4f4f", 2));
  fSets.push(...box(i - .156, i + .156, fQ1[i], fQ3[i], fColors[i], "#555", 2.2));
  fSets.push(line([{ x: i - .156, y: fMedian[i] }, { x: i + .156, y: fMedian[i] }], "#4f4f4f", 2));
});
fSets.push({ data: fPointGroup.map((g, i) => ({ x: g, y: fPointValue[i] })), pointRadius: 5, pointBorderWidth: 0, pointBackgroundColor: "#000" });
addChart({ left: 1306, right: 1554, top: 1613, bottom: 2015 }, { left: 81, right: 6, top: 6, bottom: 30 }, fSets, {
  x: axis(-.5, 1.5, [0, 1], ["", ""], { size: 12, padding: 2, tick: 9, width: 1.6 }),
  y: axis(4.29, 17.6, fTicks, fTicks.map(String), { size: 20, padding: 9, tick: 10, width: 1.6, title: "RPKM", titleSize: 21, drop: 2 })
}, [frame("#222", 2)]);
text("t-test p:0.0332", 1429, 1893, { size: 22.5 });
text(fGroups[0], 1366, 2071, { size: 21, rotate: -20 });
text(fGroups[1], 1491, 2069, { size: 21, rotate: -20 });

// grey highlight over the 6a->4b junction
const band = document.createElement("div");
band.id = "band";
page.appendChild(band);
</script>
</body>
</html>
